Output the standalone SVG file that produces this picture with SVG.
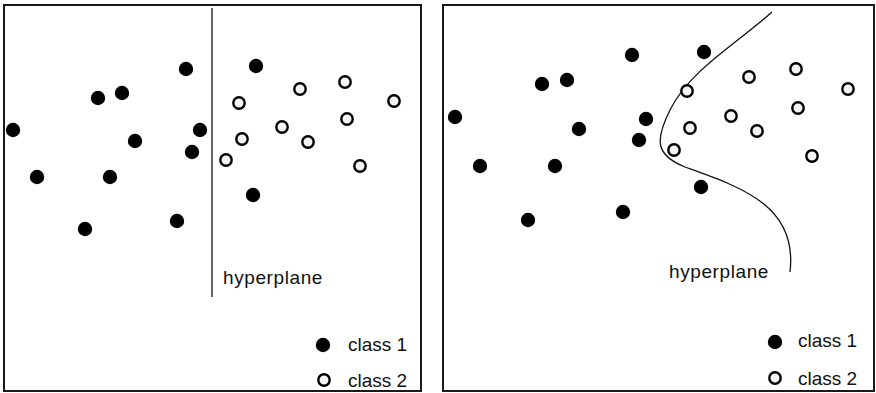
<svg xmlns="http://www.w3.org/2000/svg" width="876" height="393" viewBox="0 0 876 393">
<style>
.frame{fill:none;stroke:#1a1a1a;stroke-width:2}
.c1{fill:#000}
.c2{fill:#f4f4f4;stroke:#000;stroke-width:2.4}
.lbl{font-family:"Liberation Sans",Arial,sans-serif;font-size:19px;fill:#111}
.hpt{letter-spacing:0.6px}
.hp{fill:none;stroke:#111;stroke-width:1.3}
</style>
<defs>
<circle id="d1" r="7.2" class="c1"/>
<circle id="d2" r="5.7" class="c2"/>
</defs>
<g id="panel-left">
<rect class="frame" x="4" y="5" width="417" height="386"/>
<g id="hyperplane-left"><line class="hp" x1="212" y1="8" x2="212" y2="297"/></g>
<g id="class1-left">
<use href="#d1" x="186" y="69"/><use href="#d1" x="98" y="98"/><use href="#d1" x="122" y="93"/>
<use href="#d1" x="13" y="130"/><use href="#d1" x="135" y="141"/><use href="#d1" x="200" y="130"/>
<use href="#d1" x="192" y="152"/><use href="#d1" x="37" y="177"/><use href="#d1" x="110" y="177"/>
<use href="#d1" x="256" y="66"/><use href="#d1" x="253" y="195"/><use href="#d1" x="85" y="229"/>
<use href="#d1" x="177" y="221"/>
</g>
<g id="class2-left">
<use href="#d2" x="239" y="103"/><use href="#d2" x="300" y="89"/><use href="#d2" x="345" y="82"/>
<use href="#d2" x="394" y="101"/><use href="#d2" x="282" y="127"/><use href="#d2" x="347" y="119"/>
<use href="#d2" x="242" y="139"/><use href="#d2" x="308" y="142"/><use href="#d2" x="226" y="160"/>
<use href="#d2" x="360" y="166"/>
</g>
<text class="lbl hpt" x="223" y="284">hyperplane</text>
<g id="legend-left">
<use href="#d1" x="323" y="345"/><text class="lbl" x="348" y="351">class 1</text>
<use href="#d2" x="324" y="380"/><text class="lbl" x="348" y="387">class 2</text>
</g>
</g>
<g id="panel-right">
<rect class="frame" x="443" y="5" width="431" height="386"/>
<g id="hyperplane-right"><path class="hp" d="M772,12 C735,45 690,70 670,110 C655,140 655,155 685,167 C740,187 798,205 790,272"/></g>
<g id="class1-right">
<use href="#d1" x="632" y="55"/><use href="#d1" x="704" y="52"/><use href="#d1" x="542" y="84"/>
<use href="#d1" x="567" y="80"/><use href="#d1" x="455" y="117"/><use href="#d1" x="646" y="119"/>
<use href="#d1" x="579" y="129"/><use href="#d1" x="639" y="140"/><use href="#d1" x="480" y="166"/>
<use href="#d1" x="555" y="166"/><use href="#d1" x="701" y="187"/><use href="#d1" x="528" y="220"/>
<use href="#d1" x="623" y="212"/>
</g>
<g id="class2-right">
<use href="#d2" x="687" y="91"/><use href="#d2" x="749" y="77"/><use href="#d2" x="796" y="69"/>
<use href="#d2" x="848" y="89"/><use href="#d2" x="731" y="116"/><use href="#d2" x="798" y="108"/>
<use href="#d2" x="690" y="128"/><use href="#d2" x="757" y="131"/><use href="#d2" x="674" y="150"/>
<use href="#d2" x="812" y="156"/>
</g>
<text class="lbl hpt" x="669" y="278">hyperplane</text>
<g id="legend-right">
<use href="#d1" x="775" y="342"/><text class="lbl" x="798" y="347">class 1</text>
<use href="#d2" x="775" y="378"/><text class="lbl" x="798" y="385">class 2</text>
</g>
</g>
</svg>
